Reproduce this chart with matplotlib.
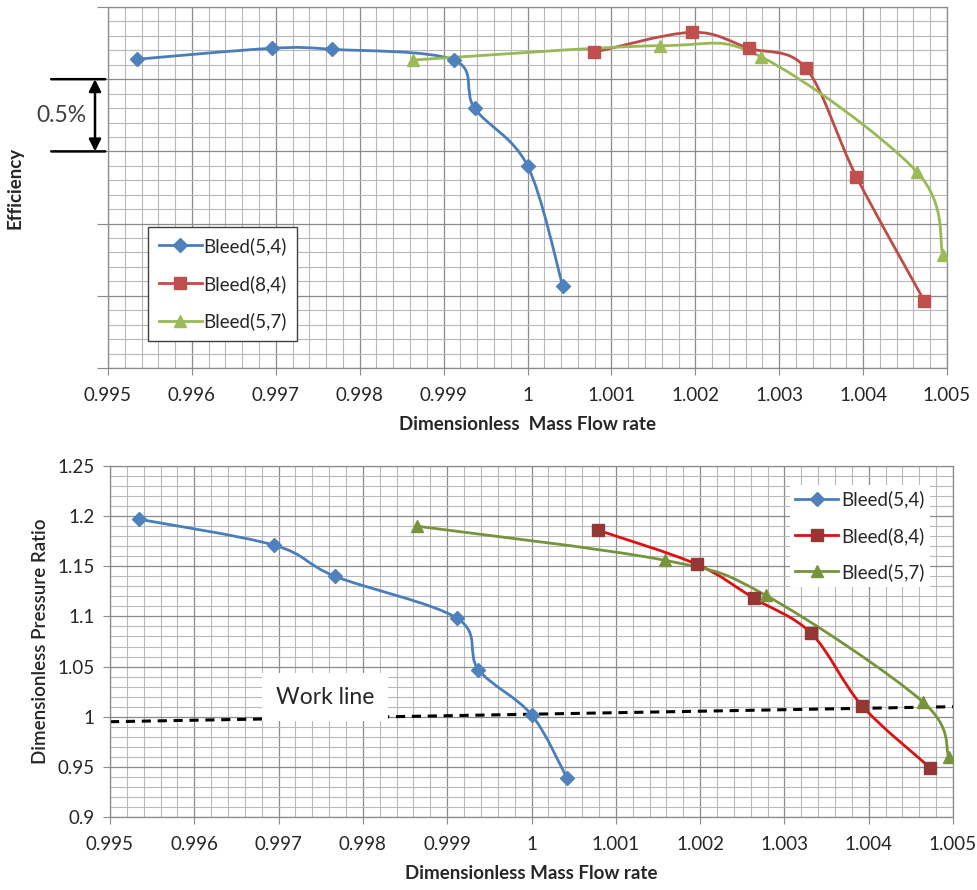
import numpy as np
import matplotlib
matplotlib.use("Agg")
import matplotlib.pyplot as plt
from matplotlib.path import Path
from matplotlib.patches import PathPatch
from matplotlib.lines import Line2D
from matplotlib.ticker import MultipleLocator, FixedLocator

plt.rcParams['font.family'] = ['Lato', 'DejaVu Sans']

# ---------------- data ----------------
series_names = ["Bleed(5,4)", "Bleed(8,4)", "Bleed(5,7)"]

# mass flow (x) per series
flow_54 = [0.99534, 0.99695, 0.99767, 0.99912, 0.99937, 1.00000, 1.00042]
flow_84 = [1.00079, 1.00196, 1.00264, 1.00332, 1.00392, 1.00473]
flow_57 = [0.99864, 1.00158, 1.00278, 1.00464, 1.00495]

# relative efficiency (%), top chart (no absolute scale shown)
eff_54 = [-0.362, -0.286, -0.293, -0.367, -0.702, -1.099, -1.932]
eff_84 = [-0.314, -0.175, -0.286, -0.425, -1.175, -2.036]
eff_57 = [-0.367, -0.268, -0.344, -1.141, -1.717]

# dimensionless pressure ratio, bottom chart
pr_54 = [1.197, 1.171, 1.140, 1.098, 1.047, 1.002, 0.939]
pr_84 = [1.186, 1.152, 1.118, 1.083, 1.011, 0.949]
pr_57 = [1.190, 1.156, 1.121, 1.015, 0.960]

# work line
work_x = [0.995, 1.005]
work_y = [0.995, 1.010]

x_ticks = [0.995, 0.996, 0.997, 0.998, 0.999, 1.000, 1.001, 1.002, 1.003, 1.004, 1.005]
x_tick_labels = ["0.995", "0.996", "0.997", "0.998", "0.999", "1", "1.001", "1.002", "1.003", "1.004", "1.005"]
pr_ticks = [0.9, 0.95, 1.0, 1.05, 1.1, 1.15, 1.2, 1.25]
pr_tick_labels = ["0.9", "0.95", "1", "1.05", "1.1", "1.15", "1.2", "1.25"]
eff_ticks = [-2.5, -2.0, -1.5, -1.0, -0.5, 0.0]

# ---------------- helpers ----------------
def smooth_path(ax, xs, ys, color, lw, z=3):
    pts = np.column_stack([xs, ys]).astype(float)
    n = len(pts)
    verts = [pts[0]]
    codes = [Path.MOVETO]
    for i in range(n - 1):
        p0 = pts[i - 1] if i > 0 else pts[i]
        p1 = pts[i]
        p2 = pts[i + 1]
        p3 = pts[i + 2] if i + 2 < n else pts[i + 1]
        c1 = p1 + (p2 - p0) / 6.0
        c2 = p2 - (p3 - p1) / 6.0
        verts += [c1, c2, p2]
        codes += [Path.CURVE4] * 3
    patch = PathPatch(Path(verts, codes), facecolor='none', edgecolor=color,
                      lw=lw, zorder=z, capstyle='round', joinstyle='round')
    ax.add_patch(patch)

def style_axes(ax):
    ax.set_axisbelow(True)
    ax.grid(which='major', color='#8a8a8a', lw=0.9)
    ax.grid(which='minor', color='#b8b8b8', lw=0.8)
    for s in ax.spines.values():
        s.set_color('#8a8a8a')
        s.set_linewidth(0.9)
    ax.tick_params(which='major', direction='out', length=5, color='#8a8a8a',
                   labelsize=13.5, labelcolor='#262626', pad=8.5)
    ax.tick_params(which='minor', length=0)
    ax.xaxis.set_major_locator(FixedLocator(x_ticks))
    ax.set_xticklabels(x_tick_labels)
    ax.xaxis.set_minor_locator(MultipleLocator(0.0002))
    ax.set_xlim(0.995, 1.005)

fig = plt.figure(figsize=(9.77, 8.9), dpi=100)
W, H = 977.0, 890.0
ax1 = fig.add_axes([108 / W, 1 - 368 / H, (947 - 108) / W, (368 - 7) / H])
ax2 = fig.add_axes([110 / W, 1 - 817 / H, (953 - 110) / W, (817 - 466) / H])

# ---------------- top: efficiency ----------------
style_axes(ax1)
ax1.set_ylim(-2.5, 0.0)
ax1.yaxis.set_major_locator(FixedLocator(eff_ticks))
ax1.yaxis.set_minor_locator(MultipleLocator(0.1))
ax1.set_yticklabels([])
ax1.tick_params(axis='y', length=8)

top_cols = [('#4a7ebb', '#4f81bd', 'D', 7.5),
            ('#be4b48', '#c0504d', 's', 8),
            ('#98b954', '#9bbb59', '^', 8.5)]
top_data = [(flow_54, eff_54), (flow_84, eff_84), (flow_57, eff_57)]
handles = []
for (xs, ys), (lc, mc, mk, ms), name in zip(top_data, top_cols, series_names):
    smooth_path(ax1, xs, ys, lc, 2.0)
    ax1.plot(xs, ys, ls='none', marker=mk, ms=ms, color=mc, mec=mc, zorder=4)
    handles.append(Line2D([], [], color=lc, lw=2.0, marker=mk, ms=ms, mfc=mc, mec=mc))
leg1 = ax1.legend(handles, series_names, loc='lower left', bbox_to_anchor=(0.048, 0.075),
                  fontsize=13.5, frameon=True, fancybox=False, handlelength=2.3,
                  handletextpad=0.1, labelspacing=1.06, borderpad=0.55, borderaxespad=0)
leg1.get_frame().set_edgecolor('#404040')
leg1.get_frame().set_linewidth(1.0)
leg1.get_frame().set_alpha(1)
for t in leg1.get_texts():
    t.set_color('#262626')
ax1.set_xlabel("Dimensionless  Mass Flow rate", fontsize=13.5, fontweight='bold',
               color='#262626', labelpad=9)
ax1.set_ylabel("Efficiency", fontsize=13.5, fontweight='bold', color='#262626', labelpad=44)

# 0.5 % scale bar
for yv in (-0.5, -1.0):
    ax1.annotate('', xy=(-0.071, yv), xytext=(0.0, yv),
                 xycoords=('axes fraction', 'data'), textcoords=('axes fraction', 'data'),
                 arrowprops=dict(arrowstyle='-', color='black', lw=1.8), annotation_clip=False)
ax1.annotate('', xy=(-0.0155, -1.0), xytext=(-0.0155, -0.5),
             xycoords=('axes fraction', 'data'), textcoords=('axes fraction', 'data'),
             arrowprops=dict(arrowstyle='<|-|>', color='black', lw=1.8,
                             mutation_scale=18, shrinkA=0, shrinkB=0),
             annotation_clip=False)
ax1.text(-0.055, -0.75, "0.5%", transform=ax1.get_yaxis_transform(), fontsize=16.5,
         color='#404040', ha='center', va='center', clip_on=False)

# ---------------- bottom: pressure ratio ----------------
style_axes(ax2)
ax2.set_ylim(0.9, 1.25)
ax2.yaxis.set_major_locator(FixedLocator(pr_ticks))
ax2.set_yticklabels(pr_tick_labels)
ax2.yaxis.set_minor_locator(MultipleLocator(0.01))
ax2.tick_params(axis='y', pad=6)

bot_cols = [('#4a7ebb', '#4f81bd', 'D', 7.5),
            ('#dd1111', '#953735', 's', 8),
            ('#77933c', '#77933c', '^', 8.5)]
bot_data = [(flow_54, pr_54), (flow_84, pr_84), (flow_57, pr_57)]
handles2 = []
for (xs, ys), (lc, mc, mk, ms), name in zip(bot_data, bot_cols, series_names):
    smooth_path(ax2, xs, ys, lc, 2.0)
    ax2.plot(xs, ys, ls='none', marker=mk, ms=ms, color=mc, mec=mc, zorder=4)
    handles2.append(Line2D([], [], color=lc, lw=2.0, marker=mk, ms=ms, mfc=mc, mec=mc))

ax2.plot(work_x, work_y, color='black', lw=2.2, ls=(0, (3.0, 2.2)), zorder=2.5)
ax2.text(0.99755, 1.0195, "Work line", fontsize=16.5, color='#262626', ha='center', va='center',
         zorder=2.8, bbox=dict(boxstyle='square,pad=0.6', facecolor='white', edgecolor='none'))

leg2 = ax2.legend(handles2, series_names, loc='upper right', bbox_to_anchor=(0.973, 0.946),
                  fontsize=13.5, frameon=True, fancybox=False, handlelength=2.3,
                  handletextpad=0.15, labelspacing=0.98, borderpad=0.3, borderaxespad=0)
leg2.get_frame().set_edgecolor('none')
leg2.get_frame().set_alpha(1)
for t in leg2.get_texts():
    t.set_color('#262626')
ax2.set_xlabel("Dimensionless Mass Flow rate", fontsize=13.5, fontweight='bold',
               color='#262626', labelpad=9)
ax2.set_ylabel("Dimensionless Pressure Ratio", fontsize=13.5, fontweight='semibold',
               color='#262626', labelpad=6)

fig.savefig("out.png", dpi=100, facecolor='white')
